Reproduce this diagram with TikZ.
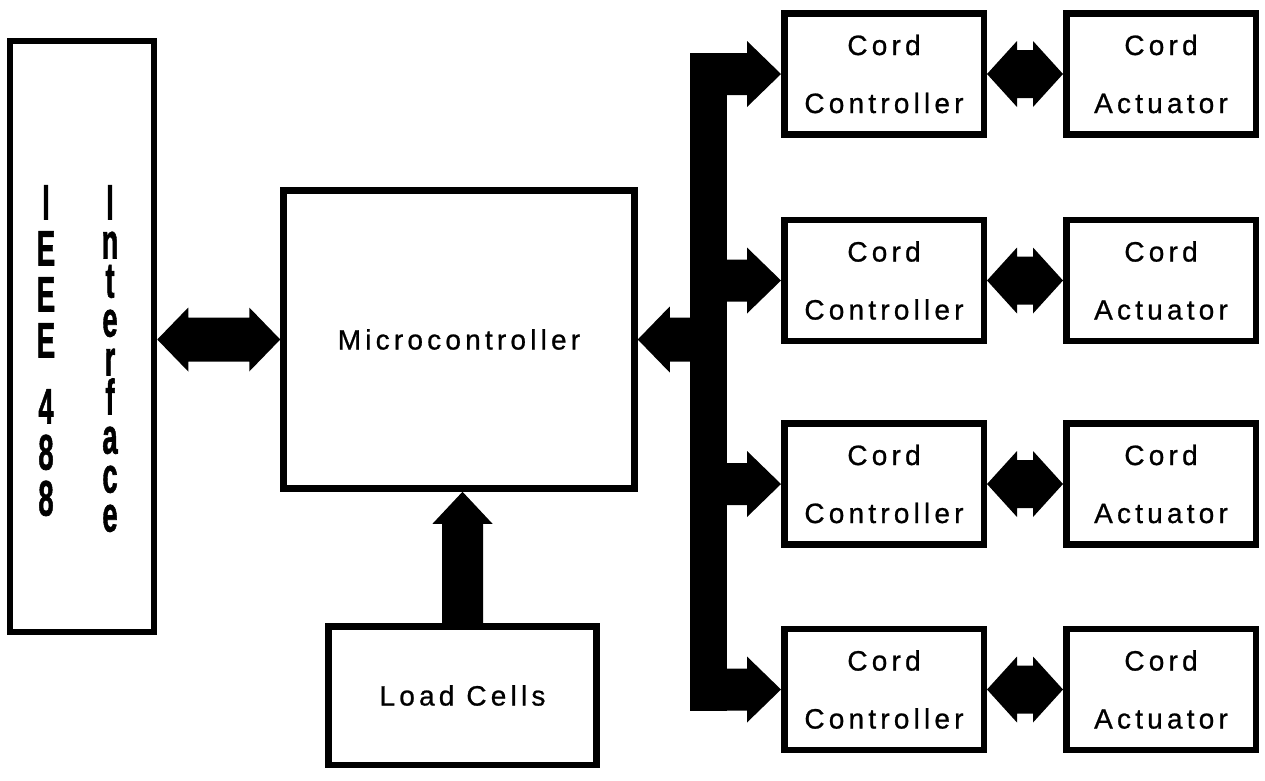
\documentclass[tikz,border=0pt]{standalone}
\usepackage{fontspec}
\setmainfont{Liberation Sans}
\newfontfamily\lab[LetterSpace=15,FakeBold=0.8]{Liberation Sans}
\newfontfamily\vlab[FakeBold=1.5]{Liberation Sans Bold}
\usetikzlibrary{calc}
\newcommand{\dblarr}[5]{%
  \fill (#1) -- ($(#1)+(#3,-#4)$) -- ($(#1)+(#3,-#5)$) -- ($(#2)+(-#3,-#5)$) -- ($(#2)+(-#3,-#4)$) -- (#2)
    -- ($(#2)+(-#3,#4)$) -- ($(#2)+(-#3,#5)$) -- ($(#1)+(#3,#5)$) -- ($(#1)+(#3,#4)$) -- cycle;}
\newcommand{\busarr}[1]{%
  \fill (#1.west) -- ++(-34,-33) -- ++(0,12) -- ++(-26,0) -- ++(0,42) -- ++(26,0) -- ++(0,12) -- cycle;}
\begin{document}
\begin{tikzpicture}[x=1pt,y=-1pt,
  box/.style={draw, line width=6.5pt, rectangle, inner sep=0pt},
  lbl/.style={font=\lab\fontsize{28}{58}\selectfont, align=center},
  ctl/.style={box, lbl, minimum width=199.5pt, minimum height=121pt},
  act/.style={box, lbl, minimum width=189.5pt, minimum height=121pt},
  vtxt/.style={xscale=0.55, anchor=north, inner sep=0pt, align=center}]
\useasboundingbox (0,0) rectangle (1265,780);
\fill[white] (0,0) rectangle (1265,780);

% IEEE 488 interface
\node[box, minimum width=144pt, minimum height=591pt] (ieee) at (82,336.5) {};
\node[vtxt, font=\vlab\fontsize{50}{46}\selectfont] (ieeet) at (46,185) {I\\E\\E\\E\\[20pt]4\\8\\8};
\node[vtxt, font=\vlab\fontsize{50}{39}\selectfont] (intt) at (110,185) {I\\n\\t\\e\\r\\f\\a\\c\\e};

% Microcontroller and load cells
\node[box, lbl, minimum width=351pt, minimum height=298pt] (micro) at (459,339.5) {Microcontroller};
\node[box, lbl, minimum width=268pt, minimum height=138.5pt] (load) at (462.5,695.5) {Load Cells};

% Controllers and actuators
\node[ctl] (c1) at (884,74) {Cord\\Controller};
\node[ctl] (c2) at (884,280.5) {Cord\\Controller};
\node[ctl] (c3) at (884,484) {Cord\\Controller};
\node[ctl] (c4) at (884,689.5) {Cord\\Controller};
\node[act] (a1) at (1161,74) {Cord\\Actuator};
\node[act] (a2) at (1161,280.5) {Cord\\Actuator};
\node[act] (a3) at (1161,484) {Cord\\Actuator};
\node[act] (a4) at (1161,689.5) {Cord\\Actuator};

% IEEE <-> microcontroller
\coordinate (L1) at (ieee.east |- micro.west);
\dblarr{L1}{micro.west}{31}{32}{22}

% controller <-> actuator
\dblarr{c1.east}{a1.west}{30}{33}{24}
\dblarr{c2.east}{a2.west}{30}{33}{24}
\dblarr{c3.east}{a3.west}{30}{33}{24}
\dblarr{c4.east}{a4.west}{30}{33}{24}

% bus
\fill ($(c1.west)+(-91,-21)$) rectangle ($(c4.west)+(-54,21)$);
\busarr{c1}
\busarr{c2}
\busarr{c3}
\busarr{c4}
\fill (micro.east) -- ++(32,-33) -- ++(0,11) -- ++(30,0) -- ++(0,44) -- ++(-30,0) -- ++(0,11) -- cycle;

% load cells -> microcontroller
\coordinate (T) at (micro.south -| load.north);
\fill (T) -- ++(30,32) -- ++(-9.5,0) -- ($(load.north)+(20.5,0)$) -- ($(load.north)+(-20.5,0)$)
  -- ($(T)+(-20.5,32)$) -- ($(T)+(-30,32)$) -- cycle;
\end{tikzpicture}
\end{document}
